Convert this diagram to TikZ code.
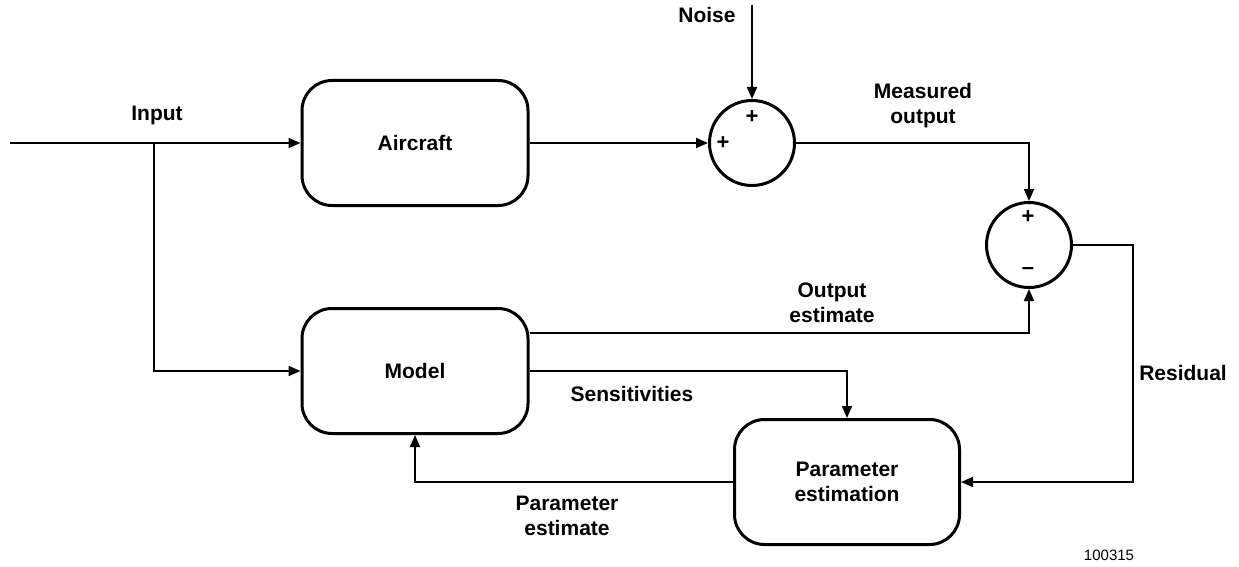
\documentclass[tikz,border=0pt]{standalone}
\usepackage{fontspec}
\setmainfont{Liberation Sans}
\usetikzlibrary{arrows.meta,calc}

\begin{document}
\begin{tikzpicture}[x=1pt,y=-1pt,
        >={Triangle[length=12pt,width=10pt]},
        block/.style={draw=black, line width=3pt, rounded corners=30pt, minimum width=226pt, minimum height=125pt, align=center, font=\fontsize{21}{25}\selectfont\bfseries},
        summer/.style={draw=black, line width=3pt, circle, minimum size=85pt, inner sep=0pt},
        signal/.style={black, line width=1.8pt, ->},
        lbl/.style={align=center, font=\fontsize{21}{25}\selectfont\bfseries},
        sgn/.style={font=\fontsize{22}{22}\selectfont\bfseries, inner sep=0pt}]
    \useasboundingbox (0,0) rectangle (1239,567);

    % blocks
    \node[block] (aircraft) at (415,143) {Aircraft};
    \node[block] (model) at (415,371) {Model};
    \node[block, minimum width=225pt] (paramest) at (847,482) {Parameter\\estimation};

    % summing junctions
    \node[summer] (sumA) at (752,143) {};
    \node[summer] (sumB) at (1029,245) {};
    \node[sgn] (plusAt) at (752,117) {+};
    \node[sgn] (plusAl) at (723,143) {+};
    \node[sgn] (plusBt) at (1028,217) {+};
    \node[sgn] (minusB) at (1028,271) {--};

    % free ends
    \coordinate (in) at (10,143);
    \coordinate (branch) at (154,143);
    \coordinate (noise) at (752,5);

    % signals
    \draw[signal] (in) -- (aircraft.west);
    \draw[signal] (branch) |- (model.west);
    \draw[signal] (aircraft.east) -- (sumA.west);
    \draw[signal] (noise) -- (sumA.north);
    \draw[signal] (sumA.east) -| (sumB.north);
    \draw[signal] ([yshift=38pt]model.east) -| (sumB.south);
    \draw[signal] (model.east) -| (paramest.north);
    \draw[signal] (sumB.east) -- ++(60,0) |- (paramest.east);
    \draw[signal] (paramest.west) -| (model.south);

    % labels
    \node[lbl] (inputlbl) at (157,115) {Input};
    \node[lbl] (noiselbl) at (707,15) {Noise};
    \node[lbl] (measlbl) at (923,106) {Measured\\output};
    \node[lbl] (outestlbl) at (832,303) {Output\\estimate};
    \node[lbl] (senslbl) at (632,394) {Sensitivities};
    \node[lbl] (parestlbl) at (567,516) {Parameter\\estimate};
    \node[lbl] (residlbl) at (1183,373) {Residual};
    \node[font=\fontsize{15}{15}\selectfont] (figno) at (1109,555) {100315};
\end{tikzpicture}
\end{document}
